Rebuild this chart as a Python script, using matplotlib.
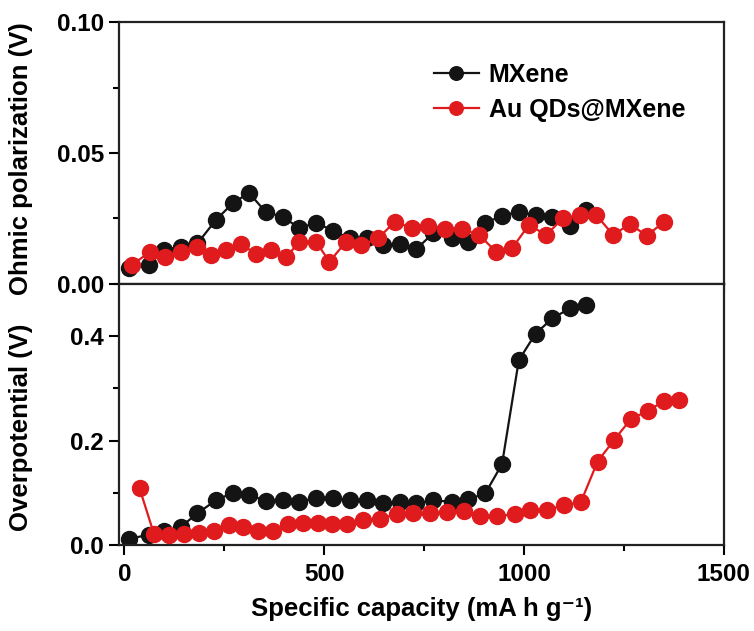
import numpy as np
import matplotlib.pyplot as plt
from matplotlib.ticker import MultipleLocator

plt.rcParams['font.family'] = ['Liberation Sans', 'DejaVu Sans']
plt.rcParams['font.weight'] = 'bold'
plt.rcParams['axes.labelweight'] = 'bold'

# MXene (same capacities in both panels)
mx_cap = [11, 61, 99, 141, 183, 229, 271, 312, 354, 396, 438, 480, 522, 564,
          606, 648, 689, 731, 773, 819, 861, 903, 945, 987, 1029, 1071, 1116, 1154]
mx_ohmic = [0.0060, 0.0073, 0.0130, 0.0142, 0.0155, 0.0244, 0.0308, 0.0348,
            0.0274, 0.0257, 0.0213, 0.0234, 0.0203, 0.0174, 0.0174, 0.0149,
            0.0152, 0.0134, 0.0194, 0.0174, 0.0161, 0.0232, 0.0261, 0.0276,
            0.0263, 0.0257, 0.0221, 0.0282]
mx_over = [0.012, 0.020, 0.027, 0.035, 0.061, 0.086, 0.100, 0.097, 0.084, 0.086,
           0.083, 0.091, 0.090, 0.086, 0.086, 0.081, 0.082, 0.080, 0.086, 0.083,
           0.088, 0.099, 0.155, 0.354, 0.405, 0.434, 0.454, 0.460]

# Au QDs@MXene
au_cap_ohm = [19, 65, 103, 141, 181, 216, 254, 292, 329, 367, 405, 438, 480, 513,
              555, 593, 635, 677, 719, 761, 802, 844, 888, 930, 970, 1012, 1056,
              1097, 1139, 1181, 1223, 1265, 1307, 1351]
au_ohmic = [0.0073, 0.0123, 0.0102, 0.0123, 0.0142, 0.0111, 0.0130, 0.0152,
            0.0115, 0.0130, 0.0102, 0.0161, 0.0161, 0.0085, 0.0161, 0.0149,
            0.0174, 0.0238, 0.0213, 0.0221, 0.0210, 0.0210, 0.0187, 0.0123,
            0.0136, 0.0225, 0.0187, 0.0251, 0.0263, 0.0263, 0.0187, 0.0229,
            0.0184, 0.0238]
au_cap_over = [38, 74, 111, 149, 187, 224, 262, 298, 334, 373, 409, 447, 484, 520,
               558, 597, 639, 681, 723, 765, 807, 849, 890, 932, 977, 1016, 1058,
               1100, 1142, 1184, 1226, 1267, 1309, 1351, 1389]
au_over = [0.109, 0.022, 0.019, 0.021, 0.023, 0.028, 0.038, 0.035, 0.028, 0.027,
           0.041, 0.043, 0.043, 0.041, 0.041, 0.048, 0.051, 0.059, 0.061, 0.061,
           0.064, 0.065, 0.056, 0.056, 0.059, 0.067, 0.067, 0.077, 0.082, 0.160,
           0.202, 0.241, 0.257, 0.276, 0.278]

black = '#141414'
red = '#e01b1e'
ms = 11.5
lw = 1.6
fs = 17.5

fig = plt.figure(figsize=(7.54, 6.31), dpi=100)
ax1 = fig.add_axes([0.158, 0.550, 0.802, 0.415])
ax2 = fig.add_axes([0.158, 0.136, 0.802, 0.414])

ax1.plot(mx_cap, mx_ohmic, '-o', color=black, ms=ms, lw=lw, label='MXene', zorder=2)
ax1.plot(au_cap_ohm, au_ohmic, '-o', color=red, ms=ms, lw=lw, label='Au QDs@MXene', zorder=3)
ax2.plot(mx_cap, mx_over, '-o', color=black, ms=ms, lw=lw, zorder=2)
ax2.plot(au_cap_over, au_over, '-o', color=red, ms=ms, lw=lw, zorder=3)

for ax in (ax1, ax2):
    ax.set_xlim(-13, 1500)
    ax.xaxis.set_major_locator(MultipleLocator(500))
    ax.xaxis.set_minor_locator(MultipleLocator(250))
    ax.tick_params(which='major', direction='out', length=7, width=1.5,
                   labelsize=fs, pad=4)
    ax.tick_params(which='minor', direction='out', length=4, width=1.5)
    for s in ax.spines.values():
        s.set_linewidth(1.6)
        s.set_color('#222222')

ax1.set_ylim(0, 0.10)
ax1.set_yticks([0.0, 0.05, 0.10])
ax1.set_yticklabels(['0.00', '0.05', '0.10'])
ax1.yaxis.set_minor_locator(MultipleLocator(0.025))
ax1.tick_params(axis='x', labelbottom=False)

ax2.set_ylim(0, 0.5)
ax2.set_yticks([0.0, 0.2, 0.4])
ax2.set_yticklabels(['0.0', '0.2', '0.4'])
ax2.yaxis.set_minor_locator(MultipleLocator(0.1))
ax2.tick_params(axis='x', pad=6)

ax1.set_ylabel('Ohmic polarization (V)', fontsize=18.5)
ax2.set_ylabel('Overpotential (V)', fontsize=18.5)
ax1.yaxis.set_label_coords(-0.143, 0.477)
ax2.yaxis.set_label_coords(-0.143, 0.452)
ax2.set_xlabel('Specific capacity (mA h g\u207b\u00b9)', fontsize=18.5, labelpad=8)

ax1.legend(loc='upper left', bbox_to_anchor=(0.52, 0.845), frameon=False,
           fontsize=18, borderpad=0, borderaxespad=0, handlelength=1.8,
           handletextpad=0.4, labelspacing=0.45, markerscale=0.85)

fig.savefig('out.png', dpi=100)
